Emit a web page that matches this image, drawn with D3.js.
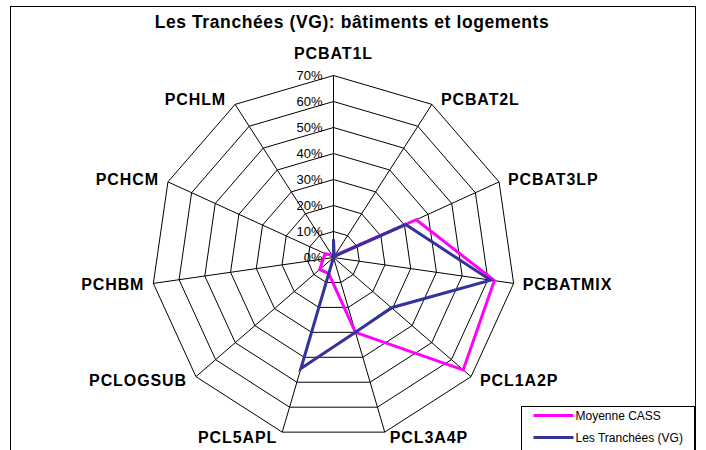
<!DOCTYPE html>
<html>
<head>
<meta charset="utf-8">
<script src="https://cdn.jsdelivr.net/npm/d3@7"></script>
<style>
    body { margin: 0; background: #fff; }
    text { font-family: Arial, "Liberation Sans", sans-serif; }
</style>
</head>
<body>
<script>
var categories = ["PCBAT1L", "PCBAT2L", "PCBAT3LP", "PCBATMIX", "PCL1A2P", "PCL3A4P",
                  "PCL5APL", "PCLOGSUB", "PCHBM", "PCHCM", "PCHLM"];
var moyenneCass = [1, 1, 35, 62.5, 66, 30, 6.5, 7, 4, 3.5, 1];
var lesTranchees = [7, 0.5, 30.5, 61, 29.5, 30, 44.5, 0, 0, 0, 0];
var tickValues = [0, 10, 20, 30, 40, 50, 60, 70];
var seriesNames = ["Moyenne CASS", "Les Tranchées (VG)"];
var seriesColors = ["#ff00ff", "#333399"];

var width = 706, height = 450;
var cx = 333.5, cy = 257.5, radius = 182;

var svg = d3.select("body").append("svg")
    .attr("width", width)
    .attr("height", height);

// chart frame
svg.append("rect")
    .attr("x", 10.5)
    .attr("y", 6.5)
    .attr("width", 685)
    .attr("height", 460)
    .attr("fill", "#fff")
    .attr("stroke", "#000")
    .attr("stroke-width", 1);

svg.append("text")
    .attr("x", 352)
    .attr("y", 22)
    .attr("text-anchor", "middle")
    .attr("dominant-baseline", "central")
    .style("font-size", "17.5px")
    .style("font-weight", "bold")
    .style("letter-spacing", "0.6px")
    .text("Les Tranchées (VG): bâtiments et logements");

var rScale = d3.scaleLinear()
    .domain([0, 70])
    .range([0, radius]);

// clockwise from 12 o'clock, one spoke per category
function angleOf(i) { return i * 2 * Math.PI / categories.length; }

var g = svg.append("g")
    .attr("transform", "translate(" + cx + "," + cy + ")");

// rings
var ringLine = d3.lineRadial()
    .angle(function (d, i) { return angleOf(i); })
    .radius(function (d) { return rScale(d); })
    .curve(d3.curveLinearClosed);

g.selectAll(".ring")
    .data(tickValues.filter(function (t) { return t > 0; }))
    .enter().append("path")
    .attr("class", "ring")
    .attr("d", function (t) { return ringLine(categories.map(function () { return t; })); })
    .attr("fill", "none")
    .attr("stroke", "#000")
    .attr("stroke-width", 1);

// spokes
g.selectAll(".spoke")
    .data(categories)
    .enter().append("line")
    .attr("class", "spoke")
    .attr("x1", 0).attr("y1", 0)
    .attr("x2", function (d, i) { return rScale(70) * Math.sin(angleOf(i)); })
    .attr("y2", function (d, i) { return -rScale(70) * Math.cos(angleOf(i)); })
    .attr("stroke", "#000")
    .attr("stroke-width", 1);

// tick labels along the top axis
g.selectAll(".tick")
    .data(tickValues)
    .enter().append("text")
    .attr("class", "tick")
    .attr("x", -11)
    .attr("y", function (t) { return -rScale(t); })
    .attr("text-anchor", "end")
    .attr("dominant-baseline", "central")
    .style("font-size", "13px")
    .text(function (t) { return t + "%"; });

// category labels
g.selectAll(".cat")
    .data(categories)
    .enter().append("text")
    .attr("class", "cat")
    .attr("x", function (d, i) {
        var s = Math.sin(angleOf(i));
        var vx = rScale(70) * s;
        if (Math.abs(s) < 0.1) return vx;
        var off = Math.abs(s) < 0.5 ? 5 : 9;
        return vx + (s > 0 ? off : -off);
    })
    .attr("y", function (d, i) {
        var c = Math.cos(angleOf(i));
        var vy = -rScale(70) * c;
        if (i === 0) return vy - 22;
        return vy - 6 * c;
    })
    .attr("text-anchor", function (d, i) {
        var s = Math.sin(angleOf(i));
        if (Math.abs(s) < 0.1) return "middle";
        return s > 0 ? "start" : "end";
    })
    .attr("dominant-baseline", "central")
    .style("font-size", "16px")
    .style("font-weight", "bold")
    .style("letter-spacing", "0.9px")
    .text(function (d) { return d; });

// series
var seriesLine = d3.lineRadial()
    .angle(function (d, i) { return angleOf(i); })
    .radius(function (d) { return rScale(d); })
    .curve(d3.curveLinearClosed);

var series = [moyenneCass, lesTranchees];
g.selectAll(".series")
    .data(series)
    .enter().append("path")
    .attr("class", "series")
    .attr("d", function (d) { return seriesLine(d); })
    .attr("fill", "none")
    .attr("stroke", function (d, i) { return seriesColors[i]; })
    .attr("stroke-width", 3)
    .attr("stroke-linejoin", "miter");

// legend
var legend = svg.append("g")
    .attr("transform", "translate(521.5,406.5)");

legend.append("rect")
    .attr("width", 173)
    .attr("height", 60)
    .attr("fill", "#fff")
    .attr("stroke", "#000")
    .attr("stroke-width", 1);

var items = legend.selectAll(".item")
    .data(seriesNames)
    .enter().append("g")
    .attr("class", "item")
    .attr("transform", function (d, i) { return "translate(0," + (9 + i * 22) + ")"; });

items.append("line")
    .attr("x1", 12).attr("x2", 52)
    .attr("y1", 0).attr("y2", 0)
    .attr("stroke", function (d, i) { return seriesColors[i]; })
    .attr("stroke-width", 3);

items.append("text")
    .attr("x", 54)
    .attr("y", 0)
    .attr("dominant-baseline", "central")
    .style("font-size", "12px")
    .text(function (d) { return d; });
</script>
</body>
</html>
